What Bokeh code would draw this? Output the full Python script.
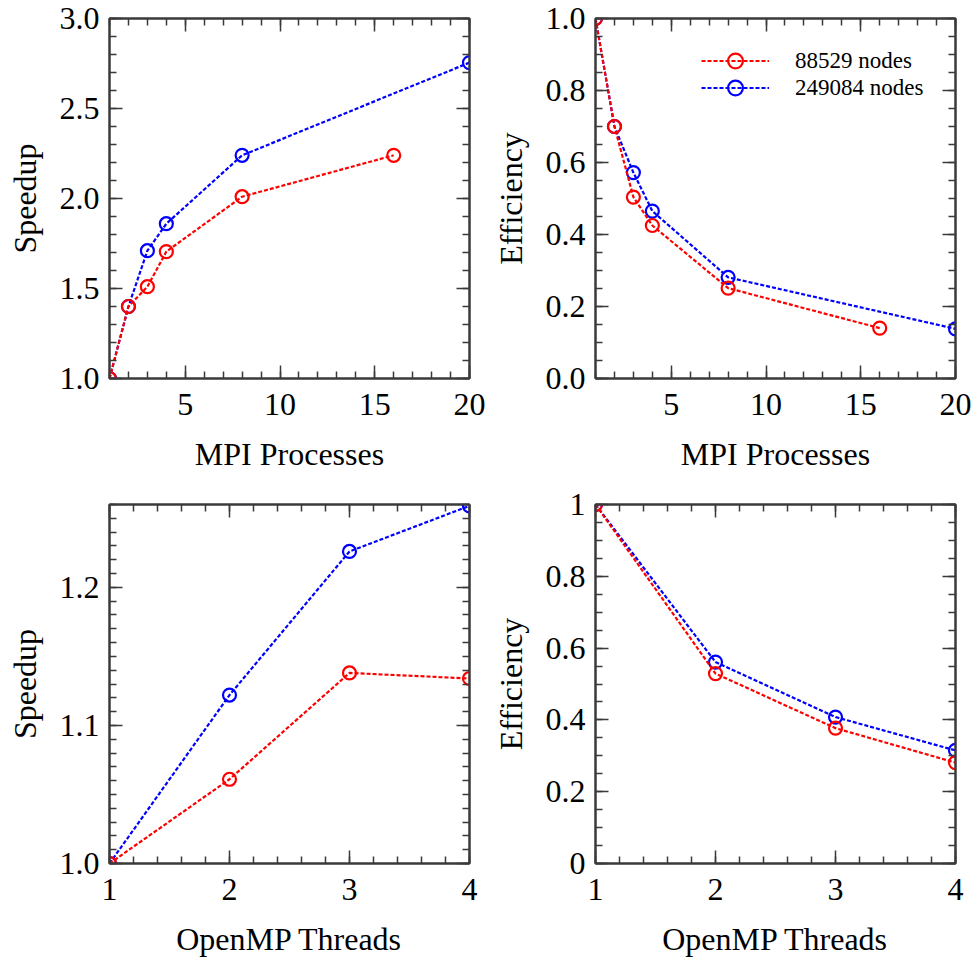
import numpy as np
from bokeh.plotting import figure
from bokeh.models import (FixedTicker, LinearAxis, Range1d, Legend, LegendItem,
                          CustomJSTickFormatter)
from bokeh.layouts import row, column
from bokeh.embed import file_html
from bokeh.resources import INLINE

FONT = "Liberation Serif"

# ---------------- data ----------------
series_names = ["88529 nodes", "249084 nodes"]
series_colors = ["#ff0000", "#0000ff"]

mpi_procs_88529 = [1, 2, 3, 4, 8, 16]
mpi_procs_249084 = [1, 2, 3, 4, 8, 20]
mpi_speedup_88529 = [1.0, 1.40, 1.51, 1.705, 2.01, 2.24]
mpi_speedup_249084 = [1.0, 1.40, 1.71, 1.86, 2.24, 2.755]
mpi_eff_88529 = [1.0, 0.70, 0.504, 0.425, 0.251, 0.140]
mpi_eff_249084 = [1.0, 0.70, 0.572, 0.465, 0.281, 0.138]

omp_threads = [1, 2, 3, 4]
omp_speedup_88529 = [1.0, 1.061, 1.138, 1.134]
omp_speedup_249084 = [1.0, 1.122, 1.226, 1.259]
omp_eff_88529 = [1.0, 0.529, 0.377, 0.281]
omp_eff_249084 = [1.0, 0.561, 0.408, 0.315]

# ---------------- ticks ----------------
mpi_x_ticks = [5, 10, 15, 20]
mpi_x_labels = ["5", "10", "15", "20"]
omp_x_ticks = [1, 2, 3, 4]
omp_x_labels = ["1", "2", "3", "4"]
mpi_speedup_ticks = [1.0, 1.5, 2.0, 2.5, 3.0]
mpi_speedup_labels = ["1.0", "1.5", "2.0", "2.5", "3.0"]
mpi_eff_ticks = [0.0, 0.2, 0.4, 0.6, 0.8, 1.0]
mpi_eff_labels = ["0.0", "0.2", "0.4", "0.6", "0.8", "1.0"]
omp_speedup_ticks = [1.0, 1.1, 1.2]
omp_speedup_labels = ["1.0", "1.1", "1.2"]
omp_eff_ticks = [0.0, 0.2, 0.4, 0.6, 0.8, 1.0]
omp_eff_labels = ["0", "0.2", "0.4", "0.6", "0.8", "1"]

AX_COLOR = "#3a3a3a"


def minor(lo, hi, step):
    return [float(v) for v in np.round(np.arange(lo, hi + step / 2, step), 4)]


def fmt(ticks, labels):
    return CustomJSTickFormatter(args=dict(t=ticks, l=labels), code="""
        for (let i = 0; i < t.length; i++) {
            if (Math.abs(t[i] - tick) < 1e-9) return l[i];
        }
        return '';
    """)


def style_axis(ax, ticker, formatter, label, xdir):
    ax.ticker = ticker
    ax.formatter = formatter
    ax.axis_label = label
    ax.axis_line_color = AX_COLOR
    ax.axis_line_width = 2
    ax.major_tick_in = 13
    ax.major_tick_out = 0
    ax.minor_tick_in = 7
    ax.minor_tick_out = 0
    ax.major_tick_line_color = AX_COLOR
    ax.major_tick_line_width = 1.5
    ax.minor_tick_line_color = AX_COLOR
    ax.minor_tick_line_width = 1.5
    ax.major_label_text_font = FONT
    ax.major_label_text_font_size = "32px"
    ax.major_label_text_color = "black"
    ax.axis_label_text_font = FONT
    ax.axis_label_text_font_size = "32px"
    ax.axis_label_text_font_style = "normal"
    ax.axis_label_text_color = "black"
    if xdir:
        ax.major_label_standoff = 15
        ax.axis_label_standoff = 18
    else:
        ax.major_label_standoff = 10
        ax.axis_label_standoff = 14


def make_fig(width, height, top, right, bottom, xr, yr,
             xticks, xminor, xlabels, yticks, yminor, ylabels, xlabel, ylabel):
    p = figure(width=width, height=height,
               x_range=Range1d(*xr), y_range=Range1d(*yr),
               output_backend="svg", toolbar_location=None,
               min_border_left=109, min_border_right=right,
               min_border_top=top, min_border_bottom=bottom)
    p.grid.visible = False
    p.outline_line_color = AX_COLOR
    p.outline_line_width = 2
    p.background_fill_color = "white"
    p.border_fill_color = "white"
    xt = FixedTicker(ticks=xticks, minor_ticks=xminor)
    yt = FixedTicker(ticks=yticks, minor_ticks=yminor)
    style_axis(p.xaxis[0], xt, fmt(xticks, xlabels), xlabel, True)
    style_axis(p.yaxis[0], yt, fmt(yticks, ylabels), ylabel, False)
    blank = "return '';"
    ax_top = LinearAxis()
    style_axis(ax_top, FixedTicker(ticks=xticks, minor_ticks=xminor),
               CustomJSTickFormatter(code=blank), None, True)
    ax_top.major_label_standoff = 0
    ax_right = LinearAxis()
    style_axis(ax_right, FixedTicker(ticks=yticks, minor_ticks=yminor),
               CustomJSTickFormatter(code=blank), None, False)
    ax_right.major_label_standoff = 0
    p.add_layout(ax_top, "above")
    p.add_layout(ax_right, "right")
    return p


def add_series(p, xs, ys, color):
    lr = p.line(xs, ys, line_color=color, line_width=2.2, line_dash="4 2")
    sr = p.scatter(xs, ys, marker="circle", size=13, fill_color=None,
                   line_color=color, line_width=2.2)
    return lr, sr


def legend_box(label, renderers, y):
    return Legend(items=[LegendItem(label=label, renderers=renderers)],
                  location=(106, y), glyph_width=68, glyph_height=37,
                  label_standoff=26, padding=0, margin=0, label_height=27,
                  border_line_alpha=0, background_fill_alpha=0,
                  label_text_font=FONT, label_text_font_size="23px",
                  label_text_color="black")


# top-left: MPI speedup
p1 = make_fig(486, 480, 18, 17, 102, (1, 20), (1.0, 3.0),
              mpi_x_ticks, minor(1, 20, 1), mpi_x_labels,
              mpi_speedup_ticks, minor(1.0, 3.0, 0.1), mpi_speedup_labels,
              "MPI Processes", "Speedup")
add_series(p1, mpi_procs_249084, mpi_speedup_249084, series_colors[1])
add_series(p1, mpi_procs_88529, mpi_speedup_88529, series_colors[0])

# top-right: MPI efficiency
p2 = make_fig(490, 480, 18, 21, 102, (1, 20), (0.0, 1.0),
              mpi_x_ticks, minor(1, 20, 1), mpi_x_labels,
              mpi_eff_ticks, minor(0.0, 1.0, 0.05), mpi_eff_labels,
              "MPI Processes", "Efficiency")
b_l, b_s = add_series(p2, mpi_procs_249084, mpi_eff_249084, series_colors[1])
r_l, r_s = add_series(p2, mpi_procs_88529, mpi_eff_88529, series_colors[0])
p2.add_layout(legend_box(series_names[0], [r_l, r_s], 299))
p2.add_layout(legend_box(series_names[1], [b_l, b_s], 272))

# bottom-left: OpenMP speedup
p3 = make_fig(486, 482, 24, 17, 99, (1, 4), (1.0, 1.26),
              omp_x_ticks, minor(1, 4, 0.2), omp_x_labels,
              omp_speedup_ticks, minor(1.0, 1.26, 0.01), omp_speedup_labels,
              "OpenMP Threads", "Speedup")
add_series(p3, omp_threads, omp_speedup_249084, series_colors[1])
add_series(p3, omp_threads, omp_speedup_88529, series_colors[0])

# bottom-right: OpenMP efficiency
p4 = make_fig(490, 482, 24, 21, 99, (1, 4), (0.0, 1.0),
              omp_x_ticks, minor(1, 4, 0.2), omp_x_labels,
              omp_eff_ticks, minor(0.0, 1.0, 0.05), omp_eff_labels,
              "OpenMP Threads", "Efficiency")
add_series(p4, omp_threads, omp_eff_249084, series_colors[1])
add_series(p4, omp_threads, omp_eff_88529, series_colors[0])

layout = column(row(p1, p2), row(p3, p4))
open("out.html", "w").write(file_html(layout, INLINE))
